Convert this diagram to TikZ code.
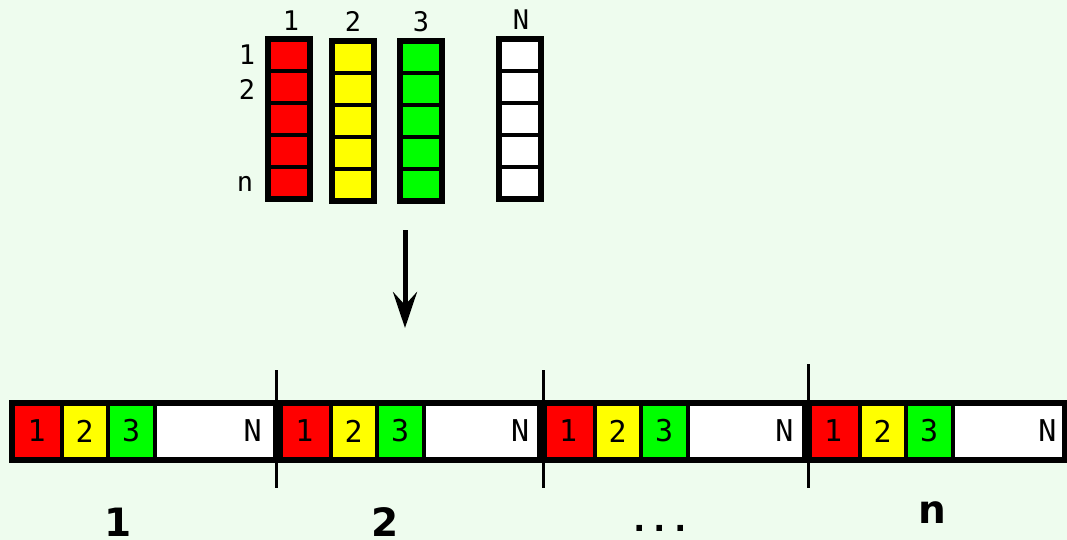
\documentclass[tikz,border=0pt]{standalone}
\usepackage{fontspec}
\setmainfont{DejaVu Sans}
\newfontfamily\labelfont{DejaVu Sans Mono}
\newfontfamily\dotfont{DejaVu Sans Mono}
\usetikzlibrary{arrows.meta}
\definecolor{bg}{RGB}{238,252,238}
\definecolor{cellred}{RGB}{255,0,0}
\definecolor{cellyellow}{RGB}{255,255,0}
\definecolor{cellgreen}{RGB}{0,255,0}
\tikzset{
  cell/.style={draw=black, line width=4pt, inner sep=0pt, outer sep=0pt, rectangle},
  frame/.style={draw=black, line width=6pt, inner sep=0pt, outer sep=0pt, rectangle},
  toplabel/.style={font=\labelfont\fontsize{27}{27}\selectfont, inner sep=0pt, anchor=base},
  celllabel/.style={font=\labelfont\fontsize{30}{30}\selectfont, inner sep=0pt},
  biglabel/.style={font=\bfseries\fontsize{39}{39}\selectfont, inner sep=0pt, anchor=base},
  separator/.style={line width=10pt},
  marker/.style={line width=3pt},
}
\begin{document}
\begin{tikzpicture}[x=1pt,y=-1pt]
  \fill[bg] (0,0) rectangle (1067,540);
  \useasboundingbox (0,0) rectangle (1067,540);

  % vertical arrays 1, 2, 3, N with n cells each
  \foreach \c/\x/\y/\col in {1/265/36/cellred, 2/329/38/cellyellow, 3/397/38/cellgreen, N/496/36/white} {
    \foreach \r in {1,...,5} {
      \node[cell, fill=\col, minimum width=42pt, minimum height=32pt]
        (c\c-\r) at ({\x+24}, {\y+3+32*\r-16}) {};
    }
    \node[frame, minimum width=42pt, minimum height=160pt] (col\c) at ({\x+24}, {\y+83}) {};
  }

  % column headers
  \node[toplabel] (h1) at (291,31) {1};
  \node[toplabel] (h2) at (353,32) {2};
  \node[toplabel] (h3) at (421,32) {3};
  \node[toplabel] (hN) at (521,30) {N};

  % row labels
  \node[toplabel] (r1) at (247,65) {1};
  \node[toplabel] (r2) at (247,100) {2};
  \node[toplabel] (rn) at (245,192) {n};

  % arrow
  \coordinate (arrowtail) at (405,230);
  \coordinate (arrowtip) at (405,328);
  \draw[line width=5pt, -{Stealth[length=36pt,width=24pt,inset=13pt]}] (arrowtail) -- (arrowtip);

  % flattened strip: n segments of N entries
  \foreach \k/\bl/\inl/\br/\off in {1/11.5/14/278/16, 2/278/283/541.5/12, 3/541.5/547/806.5/13, 4/806.5/812/1064.5/8} {
    \pgfmathsetmacro\ba{\inl+48}
    \pgfmathsetmacro\bb{\inl+93.5}
    \pgfmathsetmacro\bc{\inl+141}
    \pgfmathsetmacro\cwa{\ba-\bl}
    \pgfmathsetmacro\cwb{\bb-\ba}
    \pgfmathsetmacro\cwc{\bc-\bb}
    \pgfmathsetmacro\cwd{\br-\bc}
    \node[cell, fill=cellred, minimum width=\cwa pt, minimum height=57pt, celllabel]
      (s\k-1) at ({(\bl+\ba)/2},431) {1};
    \node[cell, fill=cellyellow, minimum width=\cwb pt, minimum height=57pt, celllabel]
      (s\k-2) at ({(\ba+\bb)/2},431) {2};
    \node[cell, fill=cellgreen, minimum width=\cwc pt, minimum height=57pt, celllabel]
      (s\k-3) at ({(\bb+\bc)/2},431) {3};
    \node[cell, fill=white, minimum width=\cwd pt, minimum height=57pt]
      (s\k-N) at ({(\bc+\br)/2},431) {};
    \node[celllabel, anchor=east] (s\k-Nlabel) at ({\br-\off},431) {N};
  }

  % segment separators
  \foreach \sx in {278,541.5,806.5} {
    \draw[separator] (\sx,402.5) -- (\sx,459.5);
  }
  \node[frame, minimum width=1053pt, minimum height=57pt] (strip) at (538,431) {};

  % boundary markers
  \foreach \mx/\mt in {276/370, 543/370, 808/364} {
    \draw[marker] (\mx,\mt) -- (\mx,488);
  }

  % segment indices
  \node[biglabel] (g1) at (118,536) {1};
  \node[biglabel] (g2) at (385,536) {2};
  \node[font=\dotfont\bfseries\fontsize{34}{34}\selectfont, inner sep=0pt, anchor=base] (gdots) at (660,531) {...};
  \node[biglabel] (gn) at (932,523) {n};
\end{tikzpicture}
\end{document}
